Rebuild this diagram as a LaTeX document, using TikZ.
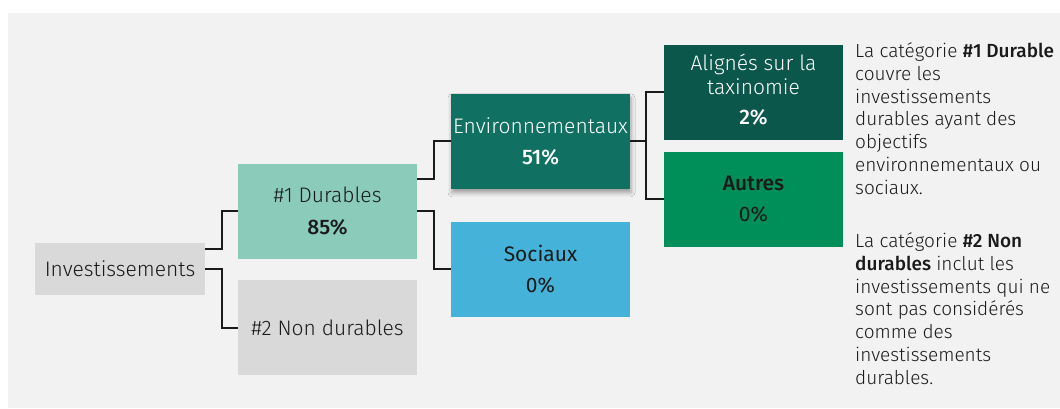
\documentclass[tikz,border=0pt]{standalone}
\usepackage{fontspec}
\setmainfont{Fira Sans Light}[BoldFont={Fira Sans Medium}]
\newfontfamily\regfont{Fira Sans}
\usetikzlibrary{shadows.blur}
\definecolor{bg}{HTML}{F2F2F2}
\definecolor{greybox}{HTML}{D9D9D9}
\definecolor{durab}{HTML}{8ACBB9}
\definecolor{envc}{HTML}{107163}
\definecolor{alic}{HTML}{0B574B}
\definecolor{autc}{HTML}{008F59}
\definecolor{socc}{HTML}{45B3D9}
\definecolor{ink}{HTML}{1A1A1A}
\begin{document}
\begin{tikzpicture}[x=1pt,y=-1pt,
  box/.style={minimum width=179pt, minimum height=95pt, inner sep=0pt, align=center,
    text=ink, font=\fontsize{21}{23.5}\selectfont},
  conn/.style={line width=2pt, draw=ink},
  para/.style={anchor=north west, align=left, inner sep=0pt, text=ink,
    font=\fontsize{19}{22.8}\selectfont}]
\useasboundingbox (0,0) rectangle (1060,408);
\fill[bg] (8,13) rectangle (1060,408);
\node[box, fill=greybox, minimum width=170pt, minimum height=52pt] (inv) at (120,269) {Investissements};
\node[box, fill=durab] (d1) at (327.5,211.3) {\#1 Durables\\[8pt]\textbf{85\%}};
\node[box, fill=greybox] (d2) at (327.5,327.5) {\#2 Non durables};
\node[box, fill=envc, text=white, blur shadow={shadow xshift=1pt, shadow yshift=-4pt, shadow blur radius=4pt, shadow opacity=35}] (env) at (540.5,141.3) {Environnementaux\\[7pt]\textbf{51\%}};
\node[box, fill=socc] (soc) at (540.5,269.3) {{\regfont Sociaux}\\[7pt]{\regfont 0\%}};
\node[box, fill=alic, text=white] (ali) at (753.5,92.3) {Alignés sur la\\taxinomie\\[7pt]\textbf{2\%}\\[-17.5pt]\mbox{}};
\node[box, fill=autc] (aut) at (753.5,199.3) {\textbf{Autres}\\[7pt]{\regfont 0\%}};
\draw[conn] ([yshift=20pt]inv.east) -- ++(17,0) |- (d1.west);
\draw[conn] (inv.east) -- ++(17,0) |- (d2.west);
\draw[conn] ([yshift=32pt]d1.east) -- ++(17,0) |- (env.west);
\draw[conn] (d1.east) -- ++(17,0) |- (soc.west);
\draw[conn] (env.east) -- ++(16,0) |- (ali.west);
\draw[conn] (env.east) -- ++(16,0) |- (aut.west);
\node[para] (p1) at (855,42.5) {La catégorie \textbf{\#1 Durable}\\couvre les\\investissements\\durables ayant des\\objectifs\\environnementaux ou\\sociaux.};
\node[para] (p2) at (855,232.5) {La catégorie \textbf{\#2 Non}\\\textbf{durables} inclut les\\investissements qui ne\\sont pas considérés\\comme des\\investissements\\durables.};
\end{tikzpicture}
\end{document}
